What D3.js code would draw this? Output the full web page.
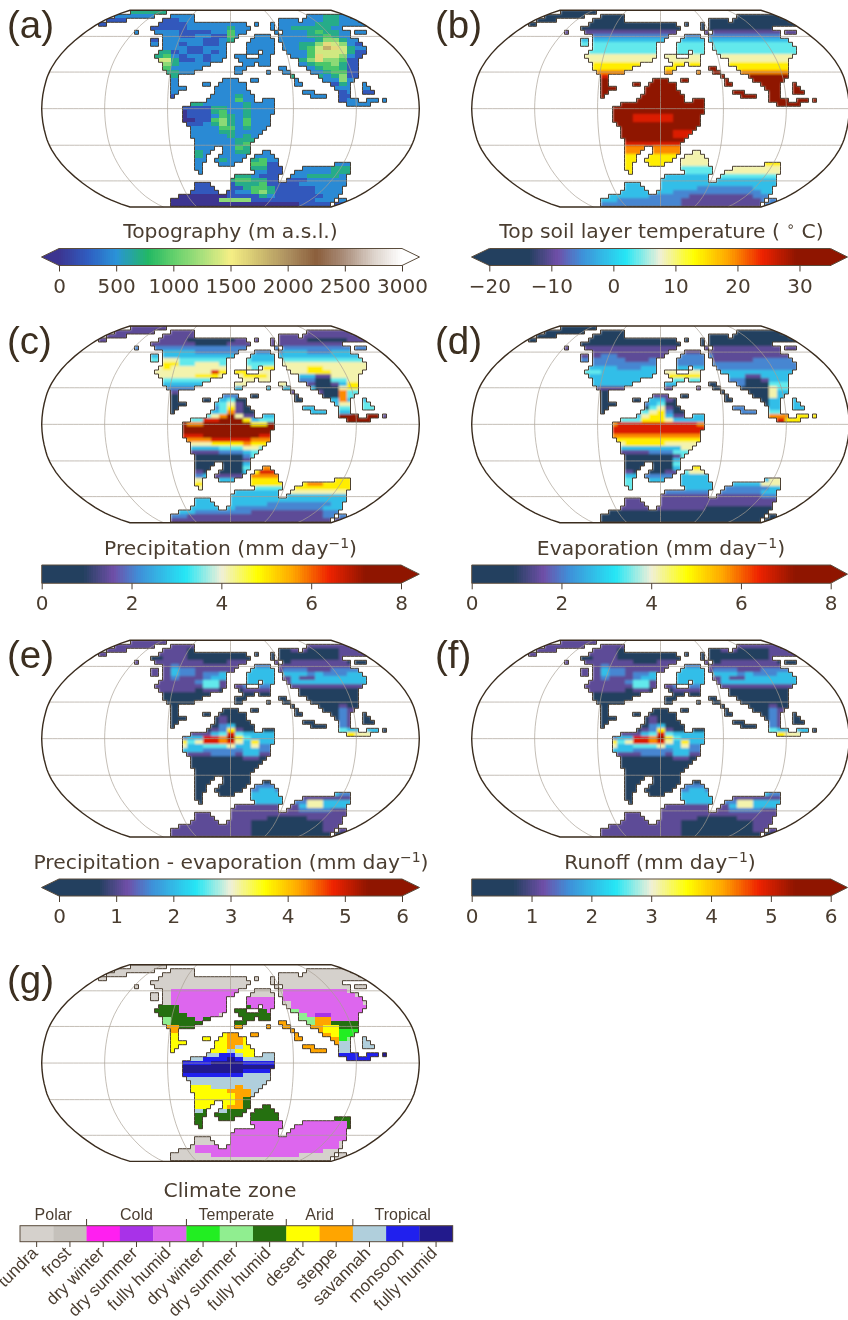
<!DOCTYPE html>
<html><head><meta charset="utf-8">
<script src="https://cdn.jsdelivr.net/npm/d3@7"></script>
<style>html,body{margin:0;background:#fff}svg{display:block;filter:blur(0.4px)}</style>
</head><body><svg id="fig" width="848" height="1320"><defs><filter id="soft" x="-5%" y="-5%" width="110%" height="110%"><feGaussianBlur stdDeviation="1.1"/></filter><filter id="softer" x="-5%" y="-5%" width="110%" height="110%"><feGaussianBlur stdDeviation="0.7"/></filter></defs></svg>
<script>
// Land cells per grid row: "firstCol-lastCol" spans
const LAND_ROWS = ["8-16","4-13 18-23 52-62","2-6 16-23 45-49 51-64","0-1 15-36 39-39 43-43 45-67","13-37 43-43 45-60",
"9-9 14-36 44-44 46-62 64-66","16-34 39-42 45-62","13-14 16-33 38-43 45-64","13-14 16-31 37-43 46-65","16-31 37-43 46-66",
"15-31 37-39 41-43 47-66","14-31 34-36 40-42 48-65","15-30 35-42 50-64","16-27 36-38 40-42 50-64","16-25 34-36 45-46 52-64",
"17-23 34-35 42-42 46-47 53-64","18-19 48-48 55-64","18-19 31-34 38-39 49-49 56-63","18-19 26-27 30-36 49-50 58-62 66-66","18-21 29-36 59-62 66-67",
"18-19 29-37 51-53 60-62 66-68","18-18 28-38 53-56 60-62","27-38 41-43 60-64 67-69 71-71","23-43 62-67","21-43",
"21-43","21-42","21-42","22-42","23-41",
"23-40","23-39","24-38","24-37","24-28 31-37",
"24-27 31-37 41-42","24-26 30-36 39-43","24-26 29-35 38-44","24-25 30-33 38-44 59-62","24-25 38-45 51-62",
"25-25 39-45 49-62","34-44 48-61","33-44 47-61","24-27 33-61","24-28 33-60",
"23-29 32-60","20-59","18-58 60-61","18-57 59-61"];

// Field rows: "level k:level k:level ..." where k is the coarse column at which a level starts
const TOPO_LEVELS = ["3","2 7:1 9:2 12:1 26:2 28:3 30:2","1 10:2 26:2 28:3 30:2","1 11:2 27:3 30:2","1 11:2 16:3 17:2 24:3 29:2",
"2 10:1 14:2 16:4 17:2 26:3 27:4 28:3 30:2","2 10:1 12:2 14:1 16:4 17:2 26:3 28:4 29:3 30:2","1 8:2 13:1 15:2 16:3 17:2 27:3 28:5 30:3 31:2","2 10:1 11:2 13:1 15:2 25:3 27:5 28:7 29:6 30:5 31:2 32:1","2 11:1 13:2 25:3 26:4 27:6 28:8 29:7 30:6 31:3 32:2",
"3 9:1 10:2 11:1 13:2 14:1 15:2 26:4 27:6 31:3 32:1","3 8:4 9:2 10:1 11:2 13:1 14:2 26:4 27:7 28:6 30:5 31:2 32:1","6 9:3 10:1 12:2 13:1 14:2 25:3 26:5 27:7 28:5 30:4 31:1","5 9:3 10:2 26:3 27:4 29:5 30:3 31:1","4 9:2 27:3 28:4 30:3 31:1",
"3 10:2 27:2 28:3 29:4 31:1","3 28:2 29:3 30:5 31:1","3 9:2 28:2 30:5 31:2","2 29:1 30:3 31:2","2 30:2",
"2 30:1 31:2 33:1","1 14:2 17:3 18:2 30:1","2 17:4 18:2 30:1 31:2","3 13:2 18:3 19:2 30:1 31:2","1 14:3 16:2 18:3 19:2",
"0 11:1 14:3 15:4 16:2 18:3 19:2","0 11:1 14:2 15:4 16:3 17:2 18:3 19:2","0 12:1 14:4 15:5 16:3 17:2 18:4 19:2","1 13:2 14:3 15:5 16:3 17:2 18:4 19:2","2 15:4 17:2 18:3 19:2",
"2 15:3 17:2","2 16:3 17:2 18:3 19:2","2 17:3","2 17:3 18:4","2 17:4 18:3",
"3 13:2 17:3 19:2","3 13:2 19:2","2 15:3 16:2 19:3 20:4 21:2","2 19:4 21:1 29:2","2 19:3 21:1 24:2 29:3",
"2 19:2 21:1 24:2 29:3","2 17:3 19:2 20:1 24:2 26:3 30:2","3 17:4 19:3 21:1 26:2","1 17:3 20:4 21:1 25:2","1 18:3 19:4 21:3 22:1 27:2",
"1 17:2 19:4 20:5 21:3 22:1 27:2","0 16:1 20:3 21:2 22:1 28:2","0 15:5 19:1 27:2","0 25:1"];

const TEMP_LEVELS = ["0","0","0","0","0","1","2","3","4","4","4","5","5","6","6 22:9 24:6","7 23:9 24:7","8 24:9","9","9","9","9","9","9","9","9","9",
"9 13:8 18:9","9 13:8 18:9","9","9","9 18:8","9 18:8","9","8","7","7 19:5","6 19:5","6 19:5","6 19:5 24:6","6 19:4 24:5","6 19:4 24:5","3 24:4","3","3","3 21:2 28:3","3 18:2 29:3","3 15:2 20:1 28:2","3 11:2 19:1 29:2","2 19:1 29:2"];

const PRECIP_LEVELS = ["1","1","1","1 11:0 17:1 26:0 31:1","1 12:0 16:1","2","2 8:3 12:2 23:3 26:2 29:3","3","4 8:5 10:4 19:3 23:4","4 8:6 10:4 12:5 15:4 23:5",
"5 8:6 9:5 19:4 20:6 23:5 26:6 28:5","5 14:8 15:6 20:5 26:6 29:5","5 12:6 15:5 18:6 21:5 24:4 25:3 27:1 29:5","4 18:5 25:2 27:0 29:4 31:5","3 17:5 26:1 27:0 29:1 30:3 31:6",
"2 17:3 27:0 30:5 31:6","1 28:0 30:7 31:4","0 15:2 18:0 30:7 31:4","0 15:3 16:4 17:0 29:3 30:7 31:3","0 14:3 15:4 16:5 17:1 18:0 29:3 30:5 33:4",
"0 14:2 15:4 16:6 17:1 18:0 25:3 29:3 30:4 33:4","0 14:3 15:4 16:7 17:1 18:0 25:3 29:3 33:3","0 11:2 13:4 14:5 15:7 16:9 17:5 18:1 20:3 30:9 35:1","3 10:4 13:8 15:9 18:6 19:3 20:4 30:9","9 11:7 13:9 19:6 21:9",
"9","9","8 13:9 20:8","7 14:8 19:7","5 14:6 18:7 19:6","3 15:4 18:5 20:4","1 15:2 18:3 19:4","0 18:2 19:4","0 18:1 19:4","0 18:3","0 18:4 19:7",
"1 13:0 18:3 19:6 20:8 22:6","2 13:3 14:1 19:7","5 14:3 19:6 29:6","6 19:6 24:6 26:7 28:6","5 19:4 24:6","3 24:5","3","3","3 21:2 29:3","3 17:2 28:3","3 12:2 19:1 28:2","2 11:1 28:2","1"];

const EVAP_LEVELS = ["0","0","0","0","0","1","1","1 9:2 11:1 17:2 23:1","2 12:1 15:2 23:1 28:2","2","3 11:2 14:3 23:2","4 9:3 17:5 22:3","3 17:6 22:3 27:1 29:3","3 17:4 22:3 25:2 27:0 29:1 30:3","3 22:0 24:2 27:0 30:4",
"1 22:0 30:5 31:4","0 30:5 31:3","0 15:1 18:0 30:5 31:3","0 15:3 17:1 18:0 30:3","0 14:2 15:3 16:4 17:0 30:3 33:3","0 15:4 16:5 17:1 18:0 25:2 30:3 33:3","0 14:4 15:5 16:6 17:2 18:0 25:2 30:4 33:2","0 11:3 14:5 15:6 17:3 18:1 20:3 30:7 33:6","4 14:6 17:5 18:3 30:7 31:8 32:6","7 11:8 21:7",
"8","8","7","6","5 12:6 17:5","3 19:5","1 15:2 18:4","0 18:1 19:4","0 18:3 19:4","0 18:4","0 18:3 19:6","1 13:0 17:1 19:4 20:5","3 14:2 19:3","4 14:3 19:3 29:3 30:5","4 19:3 24:3 29:5","4 19:3 24:2 30:3","1 17:2 23:2 29:3","1 29:2","1","1","1 22:0","0","0","0"];

const PME_LEVELS = ["1","1 12:0 26:1","1 11:0 24:1 26:0 30:1","1 11:0 30:1","0 8:1 11:0 30:1","1 13:0 16:1 23:0 24:1 31:0","1 9:2 10:1 19:2 22:1","1 9:3 10:2 12:1 19:3 22:1 23:2 26:1 29:2","1 9:3 10:2 12:1 13:2 15:3 16:1 18:3 22:1 23:3 26:2 27:3 28:2 31:3","1 9:2 10:1 13:2 14:3 16:1 18:3 22:1 24:3 25:1 27:3",
"1 12:2 13:4 15:1 18:3 22:1 24:3","1 13:4 15:1 18:2 22:1","1 12:0 13:1 15:0 18:1 22:0","0","0","0","0 30:1 31:0","0 30:2 31:1","0 30:2 31:1 33:0","0 15:1 16:0 30:2 31:1 33:0","0 15:1 16:0 30:2 31:1 33:0","0 15:2 16:3 17:0 30:2 31:1 33:0","0 14:1 15:2 16:6 17:1 18:0 30:4 31:3 35:0","1 14:3 15:4 16:8 17:4 18:3 30:9 31:6 32:5","2 11:3 13:8 15:7 16:9 17:6 18:4 19:3",
"6 11:4 12:5 13:8 15:7 16:8 17:5 18:3 19:6 20:3","5 11:3 13:4 16:5 17:3 19:5 20:2","3 13:2 18:3 20:2","1 14:2 17:1 18:3 20:1","0 18:1 20:0","0","0","0","0","0","0","0 19:2","0 19:2 20:3 22:2","0 19:3 30:2","0 19:3 24:1","0 19:3 24:2 26:5 28:3","1 24:1 25:3 26:5 28:3","1 25:2 29:1","1","1 21:0 26:1","1 19:0 28:1","1 19:0 28:1","1 19:0 28:1","1 19:0 28:0"];

// Panel (f) reads the same as panel (e) at this resolution
const RUNOFF_LEVELS = PME_LEVELS.slice();

const CLIMATE_LEVELS = ["0","0","0","0","0","0","0 9:4 19:0 23:4 31:0","0 9:4 19:0 23:4 32:0","0 9:4 19:4 22:0 23:4 33:0","0 9:4 18:4 22:0 24:4 33:0",
"7 10:4 17:7 19:4 22:0 24:4","7 10:4 16:0 17:7 21:4 22:0 24:6 25:4","7 11:4 15:0 17:7 22:0 24:6 26:4 27:3 29:4","6 9:7 12:4 13:7 22:9 25:6 27:9 29:4","6 9:7 22:9 26:6 27:9 29:7",
"9 10:7 17:9 22:9 27:9 28:8 30:7","9 28:8 30:5","8 15:8 16:9 24:9 28:9 29:8 30:5","8 16:9 18:8 24:9 30:5 31:6 33:a","8 16:9 18:8 24:9 30:a",
"8 16:9 17:a 18:8 25:9 30:a","8 16:a 17:8 25:9 30:a","9 13:a 15:b 17:a 18:8 20:a 30:b 35:c","a 13:b 16:c 17:b 18:a 30:b","b 14:c 18:b",
"c","c 18:b","b 18:a","a","a","8 14:a 17:9 18:a","8 16:9 19:a","8 17:9 19:a","8 17:9 18:7 19:a","8 17:9 18:7","8 16:9 18:7","a 13:7 15:a 16:7","7","7","7 19:4 31:7","7 19:4 31:7","4","4","0 15:4 31:0","0 15:4 30:0","0 12:4 30:0","0 12:4 28:0","0 14:4 25:0","0"];

const LEVEL_T = [.05,.18,.26,.34,.43,.52,.62,.72,.82,.93];
const TOPO_LEVEL_STEP = 230;

const CLIMATE_LABELS = ["tundra","frost","dry winter","dry summer","fully humid","dry winter","dry summer","fully humid","desert","steppe","savannah","monsoon","fully humid"];
const CLIMATE_COLORS = ["#d5d1cc","#c5c1bb","#ff1ff0","#a832e8","#dd66ee","#22ee22","#90ee90","#257010","#ffff00","#ffa500","#b0cfdc","#2020ee","#221a8c"];
const CLIMATE_GROUPS = ["Polar","Cold","Temperate","Arid","Tropical"];
const CLIMATE_GROUP_ENDS = [2,5,8,10,13];

const TOPO_STOPS = [0,250,500,780,1000,1250,1500,1750,2000,2250,2500,2750,3000];
const TOPO_COLORS = ["#3c3490","#2f5cc0","#2a93d8","#22b864","#62d06c","#a8e07c","#f5ef85","#d0c070","#ad9060","#8b5e3c","#ab8f7c","#dcd2ca","#ffffff"];
const HEAT_STOPS = [0,.116,.2,.27,.4,.5,.6,.7,.8,.9,1];
const HEAT_COLORS = ["#23405f","#23405f","#6f4fa8","#3f8fd8","#25e6f5","#f0f0d8","#ffff00","#ffa500","#ee2200","#8f1500","#8f1500"];
const LAT_LINES = [-60,-30,0,30,60];
const LON_LINES = [-120,-60,0,60,120];
const ROBINSON_PLEN = [1,.9986,.9954,.99,.9822,.973,.96,.9427,.9216,.8962,.8679,.835,.7986,.7597,.7186,.6732,.6213,.5722,.5322];
const ROBINSON_PDFE = [0,.062,.124,.186,.248,.31,.372,.434,.4958,.5571,.6176,.6769,.7346,.7903,.8435,.8936,.9394,.9761,1];

const INK = "#4a3d30", COAST = "#3a2c1e", TITLE_SIZE = 20.3, TICK_SIZE = 20;
const svg = d3.select("#fig");
const MAP_W = 377.6, MAP_H = 196.7, CELL = 4;

const lookup = arr => d3.scaleLinear().domain(arr.map((_, i) => i * 5)).range(arr);
const plen = lookup(ROBINSON_PLEN), pdfe = lookup(ROBINSON_PDFE);
function robinsonRaw(l, p) {
  const d = Math.min(90, Math.abs(p * 180 / Math.PI));
  return [plen(d) * l / Math.PI * MAP_W / 2, Math.sign(p) * pdfe(d) * MAP_H / 2];
}
const landCells = [];
LAND_ROWS.forEach((s, r) => s.split(" ").forEach(sp => {
  const [a, b] = sp.split("-").map(Number);
  d3.range(a, b + 1).forEach(c => landCells.push({ r, c }));
}));
const landSet = new Set(landCells.map(d => d.r * 100 + d.c));
function levelAt(rowStr, c) {
  const k = Math.floor(c / 2);
  let L = "0";
  rowStr.split(" ").forEach(t => {
    const p = t.split(":");
    if (p.length === 1) L = p[0]; else if (+p[0] <= k) L = p[1];
  });
  return parseInt(L, 16);
}

function drawMap(id, cx, top, levels, color, soft) {
  const g = svg.append("g");
  const xCell = d3.scaleLinear().domain([0, 72]).range([cx - 132, cx + 156]);
  const yCell = d3.scaleLinear().domain([0, 49]).range([top, top + 49 * CELL]);
  const proj = d3.geoProjection(robinsonRaw).scale(1).translate([cx, top + MAP_H / 2]).precision(0.1);
  const path = d3.geoPath(proj);
  svg.select("defs").append("clipPath").attr("id", "clip" + id).append("path").attr("d", path({ type: "Sphere" }));
  const landShape = d3.path();
  landCells.forEach(({ r, c }) => landShape.rect(xCell(c), yCell(r), CELL, CELL));
  svg.select("defs").append("clipPath").attr("id", "land" + id).append("path").attr("d", landShape.toString());
  const land = g.append("g").attr("clip-path", `url(#clip${id})`);
  const fills = land.append("g").attr("clip-path", `url(#land${id})`).append("g");
  if (soft) fills.attr("filter", `url(#${soft})`);
  fills.selectAll("rect").data(landCells).join("rect")
    .attr("x", d => xCell(d.c)).attr("y", d => yCell(d.r))
    .attr("width", CELL + .5).attr("height", CELL + .5).attr("shape-rendering", "crispEdges")
    .attr("fill", d => color(levelAt(levels[d.r], d.c)));
  const coast = d3.path();
  landCells.forEach(({ r, c }) => {
    const x0 = xCell(c), x1 = xCell(c + 1), y0 = yCell(r), y1 = yCell(r + 1);
    const seg = (a, b, e, f) => { coast.moveTo(a, b); coast.lineTo(e, f); };
    if (!landSet.has((r - 1) * 100 + c)) seg(x0, y0, x1, y0);
    if (!landSet.has((r + 1) * 100 + c)) seg(x0, y1, x1, y1);
    if (c === 0 || !landSet.has(r * 100 + c - 1)) seg(x0, y0, x0, y1);
    if (!landSet.has(r * 100 + c + 1)) seg(x1, y0, x1, y1);
  });
  land.append("path").attr("d", coast.toString()).attr("fill", "none").attr("stroke", COAST).attr("stroke-width", .9);
  const grid = {
    type: "MultiLineString", coordinates: [
      ...LAT_LINES.map(la => d3.range(-180, 181, 5).map(lo => [lo, la])),
      ...LON_LINES.map(lo => d3.range(-90, 91, 5).map(la => [lo, Math.max(-89.9, Math.min(89.9, la))]))
    ]
  };
  g.append("path").attr("d", path(grid)).attr("fill", "none").attr("stroke", "#a89e93").attr("stroke-width", .8).attr("opacity", .85);
  g.append("path").attr("d", path({ type: "Sphere" })).attr("fill", "none").attr("stroke", COAST).attr("stroke-width", 1.4);
}

function drawBar(x0, x1, yTop, yBot, domain, ticks, scaleColor, tipStart, tipEnd) {
  const g = svg.append("g");
  const x = d3.scaleLinear().domain(domain).range([x0, x1]);
  const steps = d3.range(0, 160);
  const w = (x1 - x0) / 160;
  g.selectAll("rect").data(steps).join("rect")
    .attr("x", i => x0 + i * w).attr("y", yTop).attr("width", w + .6).attr("height", yBot - yTop)
    .attr("shape-rendering", "crispEdges")
    .attr("fill", i => scaleColor(x.invert(x0 + (i + .5) * w)));
  const ym = (yTop + yBot) / 2;
  g.append("path").attr("d", `M${x1},${yTop}L${tipEnd},${ym}L${x1},${yBot}Z`).attr("fill", scaleColor(domain[1]));
  let outline = `M${x0},${yTop}L${x1},${yTop}L${tipEnd},${ym}L${x1},${yBot}L${x0},${yBot}`;
  if (tipStart !== undefined) {
    g.append("path").attr("d", `M${x0},${yTop}L${tipStart},${ym}L${x0},${yBot}Z`).attr("fill", scaleColor(domain[0]));
    outline += `L${tipStart},${ym}Z`;
  } else outline += "Z";
  g.append("path").attr("d", outline).attr("fill", "none").attr("stroke", "#5a4c3c").attr("stroke-width", 1);
  const ax = svg.append("g").attr("transform", `translate(0,${yBot})`)
    .call(d3.axisBottom(x).tickValues(ticks).tickFormat(d3.format("d")).tickSize(6).tickPadding(7));
  ax.select(".domain").remove();
  ax.selectAll("line").attr("stroke", INK).attr("stroke-width", 1);
  ax.selectAll("text").attr("fill", INK).attr("font-family", "DejaVu Sans").attr("font-size", TICK_SIZE);
}

function title(x, y, parts) {
  const t = svg.append("text").attr("x", x).attr("y", y).attr("text-anchor", "middle")
    .attr("font-family", "DejaVu Sans").attr("font-size", TITLE_SIZE).attr("fill", INK);
  parts.forEach(p => {
    const s = t.append("tspan").text(p.text);
    if (p.sup) s.attr("font-size", 14).attr("dy", -7); else if (p.after) s.attr("dy", 7);
  });
}
function panelLabel(x, y, s) {
  svg.append("text").attr("x", x).attr("y", y).text(s).attr("font-family", "Liberation Sans")
    .attr("font-size", 38.5).attr("fill", "#3c2f20");
}

const topoColor = d3.scaleLinear().domain(TOPO_STOPS).range(TOPO_COLORS);
const heat = (lo, hi) => d3.scaleLinear().domain(HEAT_STOPS.map(t => lo + t * (hi - lo))).range(HEAT_COLORS);
const fromLevel = (lo, hi, sc) => L => sc(lo + LEVEL_T[L] * (hi - lo));

const XL = 230.5, XR = 660.5;
const mmDay = n => [{ text: n + " (mm day" }, { text: "−1", sup: true }, { text: ")", after: true }];

// (a)
drawMap("a", XL, 10.3, TOPO_LEVELS, L => topoColor(L * TOPO_LEVEL_STEP), "softer");
panelLabel(7, 38, "(a)");
title(XL, 238, [{ text: "Topography (m a.s.l.)" }]);
drawBar(59, 402, 248.5, 265.5, [0, 3000], d3.range(0, 3001, 500), topoColor, 41.5 , 419.5);
// (b)
const tScale = heat(-20, 35);
drawMap("b", XR, 10.3, TEMP_LEVELS, fromLevel(-20, 35, tScale), "soft");
panelLabel(435, 38, "(b)");
title(661.5, 238, [{ text: "Top soil layer temperature ( " }, { text: "∘", sup: true }, { text: " C)", after: true }]);
drawBar(489.3, 830.5, 248.5, 265.5, [-20, 35], [-20, -10, 0, 10, 20, 30], tScale, 471.5, 847.5);
// (c)
const pScale = heat(0, 8);
drawMap("c", XL, 326, PRECIP_LEVELS, fromLevel(0, 8, pScale), "soft");
panelLabel(7, 354, "(c)");
title(XL, 555, mmDay("Precipitation"));
drawBar(41.7, 401, 565, 583.3, [0, 8], d3.range(0, 9, 2), pScale, undefined, 419.3);
// (d)
drawMap("d", XR, 326, EVAP_LEVELS, fromLevel(0, 8, pScale), "soft");
panelLabel(435, 354, "(d)");
title(661, 555, mmDay("Evaporation"));
drawBar(471.7, 830.7, 565, 583.3, [0, 8], d3.range(0, 9, 2), pScale, undefined, 847.5);
// (e)
const eScale = heat(0, 6);
drawMap("e", XL, 640.3, PME_LEVELS, fromLevel(0, 6, eScale), "soft");
panelLabel(7, 668, "(e)");
title(231, 869, mmDay("Precipitation - evaporation"));
drawBar(59, 402, 879, 896, [0, 6], d3.range(0, 7), eScale, 41.5, 419.5);
// (f)
drawMap("f", XR, 640.3, RUNOFF_LEVELS, fromLevel(0, 6, eScale), "soft");
panelLabel(435, 668, "(f)");
title(660, 869, mmDay("Runoff"));
drawBar(471.7, 830.7, 879, 896, [0, 6], d3.range(0, 7), eScale, undefined, 847.5);
// (g)
drawMap("g", XL, 964.7, CLIMATE_LEVELS, L => CLIMATE_COLORS[L], null);
panelLabel(7, 993, "(g)");
title(230, 1197, [{ text: "Climate zone" }]);

const lx = d3.scaleLinear().domain([0, CLIMATE_LABELS.length]).range([20, 452.7]);
const leg = svg.append("g");
leg.selectAll("rect").data(CLIMATE_COLORS).join("rect")
  .attr("x", (d, i) => lx(i)).attr("y", 1225.7).attr("width", lx(1) - lx(0) + .3).attr("height", 16).attr("fill", d => d);
leg.append("rect").attr("x", 20).attr("y", 1225.7).attr("width", 432.7).attr("height", 16)
  .attr("fill", "none").attr("stroke", "#5a4c3c").attr("stroke-width", 1);
leg.selectAll("line.t").data(CLIMATE_LABELS).join("line").attr("class", "t")
  .attr("x1", (d, i) => lx(i + .5)).attr("x2", (d, i) => lx(i + .5)).attr("y1", 1241.7).attr("y2", 1247)
  .attr("stroke", INK);
leg.selectAll("line.g").data(CLIMATE_GROUP_ENDS.slice(0, -1)).join("line").attr("class", "g")
  .attr("x1", d => lx(d)).attr("x2", d => lx(d)).attr("y1", 1225.7).attr("y2", 1219).attr("stroke", INK);
leg.selectAll("text.l").data(CLIMATE_LABELS).join("text").attr("class", "l")
  .attr("transform", (d, i) => `translate(${lx(i + .5) + 2},${1254}) rotate(-45)`)
  .attr("text-anchor", "end").attr("font-family", "Liberation Sans").attr("font-size", 17).attr("fill", INK).text(d => d);
leg.selectAll("text.h").data(CLIMATE_GROUPS).join("text").attr("class", "h")
  .attr("x", (d, i) => lx(((i ? CLIMATE_GROUP_ENDS[i - 1] : 0) + CLIMATE_GROUP_ENDS[i]) / 2))
  .attr("y", 1220).attr("text-anchor", "middle").attr("font-family", "Liberation Sans").attr("font-size", 16).attr("fill", INK).text(d => d);
</script></body></html>
